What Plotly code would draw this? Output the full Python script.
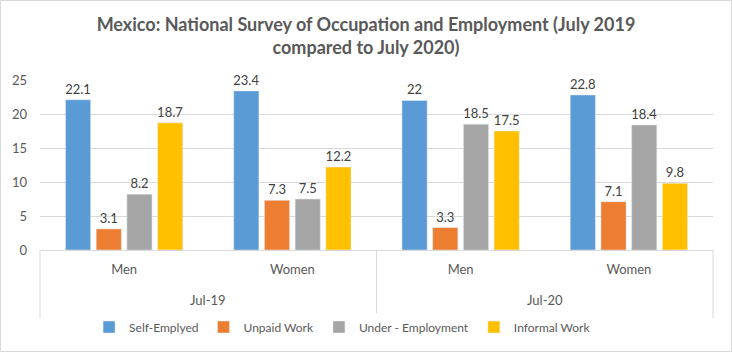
import plotly.graph_objects as go

periods = ["Jul-19", "Jul-19", "Jul-20", "Jul-20"]
genders = ["Men", "Women", "Men", "Women"]
series_names = ["Self-Emplyed", "Unpaid Work", "Under - Employment", "Informal Work"]
self_employed = [22.1, 23.4, 22, 22.8]
unpaid_work = [3.1, 7.3, 3.3, 7.1]
under_employment = [8.2, 7.5, 18.5, 18.4]
informal_work = [18.7, 12.2, 17.5, 9.8]
colors = ["#5B9BD5", "#ED7D31", "#A5A5A5", "#FFC000"]

W, H = 732, 352
ml, mr, mt, mb = 40, 19, 80, 102
font_family = "Lato, 'Open Sans', sans-serif"
grey = "#595959"
line_grey = "#D9D9D9"

keys = [f"{p}|{g}" for p, g in zip(periods, genders)]

fig = go.Figure()
for name, vals, c in zip(series_names, [self_employed, unpaid_work, under_employment, informal_work], colors):
    fig.add_trace(go.Bar(
        x=keys, y=vals, name=name, marker_color=c,
        text=[str(v) for v in vals], textposition="outside", constraintext="none",
        textfont=dict(size=13, color="#404040", family=font_family),
        cliponaxis=False,
    ))

pw = W - ml - mr
ph = H - mt - mb
bx0 = (0.5 - ml) / pw
bx1 = (W - 0.5 - ml) / pw
by1 = (H - mb - 0.5) / ph
by0 = (H - mb - (H - 0.5)) / ph

# group labels & dividers (second category level)
n = len(keys)
groups = []
for i, p in enumerate(periods):
    if not groups or groups[-1][0] != p:
        groups.append([p, i, i])
    else:
        groups[-1][2] = i
annotations = []
shapes = [dict(type="rect", xref="paper", yref="paper", x0=bx0, x1=bx1, y0=by0, y1=by1,
               line=dict(color=line_grey, width=1), layer="below")]
div_bottom = -68 / ph
for p, a, b in groups:
    annotations.append(dict(text=p, xref="paper", yref="paper", x=(a + b + 1) / 2 / n,
                            y=-50 / ph, xanchor="center", yanchor="middle", showarrow=False,
                            font=dict(size=13, color=grey, family=font_family)))
    shapes.append(dict(type="line", xref="paper", yref="paper", x0=a / n, x1=a / n,
                       y0=0, y1=div_bottom, line=dict(color=line_grey, width=1)))
shapes.append(dict(type="line", xref="paper", yref="paper", x0=1, x1=1,
                   y0=0, y1=div_bottom, line=dict(color=line_grey, width=1)))

fig.update_layout(
    width=W, height=H,
    margin=dict(l=ml, r=mr, t=mt, b=mb, autoexpand=False),
    paper_bgcolor="white", plot_bgcolor="white",
    barmode="group", bargap=0.27, bargroupgap=0.18,
    font=dict(family=font_family, color=grey, size=13),
    title=dict(
        text="<b>Mexico: National Survey of Occupation and Employment (July 2019<br>compared to July 2020)</b>",
        x=0.5, xref="container", xanchor="center", y=0.912, yref="container", yanchor="top",
        font=dict(size=18, color=grey, family=font_family),
    ),
    legend=dict(orientation="h", x=0.468, xanchor="center", xref="container",
                y=1 - 327 / H, yref="container", yanchor="middle",
                font=dict(size=12, color=grey), itemwidth=30, traceorder="normal"),
    shapes=shapes,
    annotations=annotations,
)
fig.update_xaxes(type="category", tickvals=keys, ticktext=genders,
                 showline=True, linecolor=line_grey, linewidth=1, showgrid=False,
                 tickfont=dict(size=13, color=grey), ticks="", ticklabelstandoff=7,
                 automargin=False)
fig.update_yaxes(range=[0, 25], dtick=5, showgrid=True, gridcolor=line_grey, gridwidth=1,
                 zeroline=False, showline=False, tickfont=dict(size=13, color=grey),
                 ticklabelstandoff=12, automargin=False)

fig.write_html("out.html", config={"displayModeBar": False},
               post_script="document.body.style.margin='0';")
